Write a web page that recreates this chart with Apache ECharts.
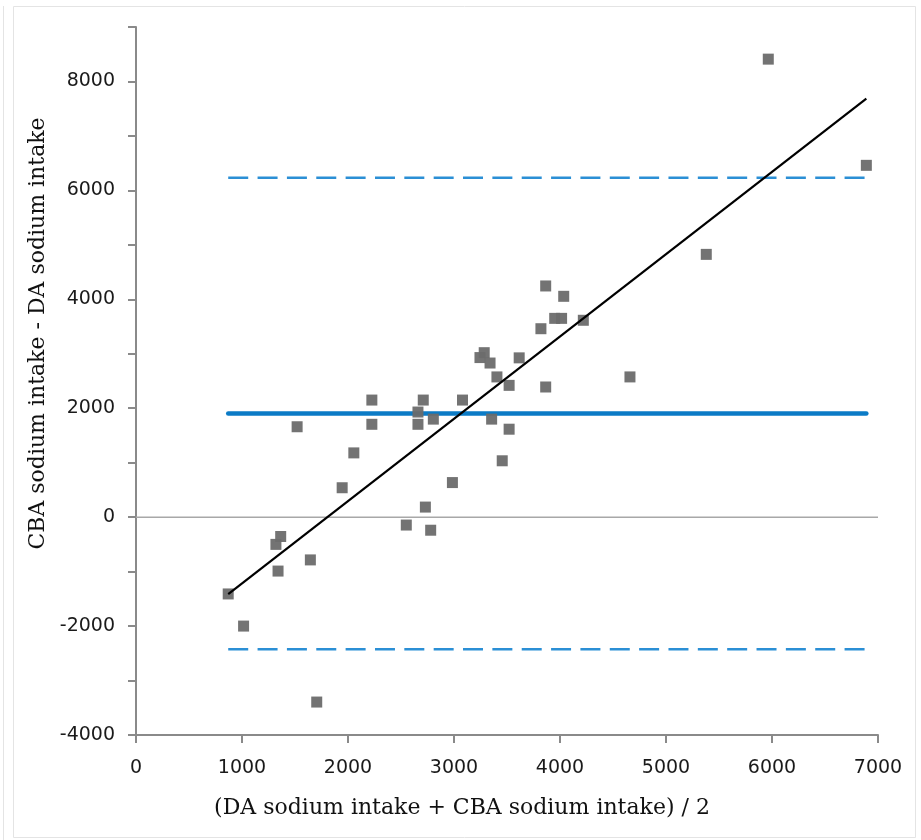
<!DOCTYPE html>
<html>
<head>
<meta charset="utf-8">
<script src="https://cdn.jsdelivr.net/npm/echarts@6/dist/echarts.min.js"></script>
<style>
html,body{margin:0;padding:0;background:#fff;}
#chart{width:921px;height:840px;}
</style>
</head>
<body>
<div id="chart"></div>
<script>
// Mean of the two methods (x) and difference CBA - DA (y)
const meanIntake = [870, 1015, 1705, 1320, 1365, 1340, 1645, 1520, 1945, 2055,
  2225, 2225, 2710, 2660, 2660, 2805, 2550, 2730, 2780, 2985,
  3080, 3355, 3520, 3455, 3405, 3520, 3285, 3245, 3340, 3615,
  3865, 3820, 3865, 4035, 3950, 4015, 4220, 4660, 5380, 5965, 6890];
const diffIntake = [-1410, -2000, -3395, -500, -355, -990, -785, 1660, 540, 1180,
  2150, 1705, 2150, 1930, 1705, 1800, -145, 185, -240, 635,
  2150, 1800, 1615, 1035, 2575, 2420, 3020, 2930, 2830, 2925,
  2390, 3460, 4245, 4055, 3650, 3650, 3615, 2575, 4825, 8410, 6460];

const meanDiff = 1905;
const upperLoA = 6230;
const lowerLoA = -2425;

const trendX = [870, 6890];
const trendY = [-1413, 7687];

const xTicks = [0, 1000, 2000, 3000, 4000, 5000, 6000, 7000];
const yTicks = [-4000, -2000, 0, 2000, 4000, 6000, 8000];

const xTitle = '(DA sodium intake + CBA sodium intake) / 2';
const yTitle = 'CBA sodium intake - DA sodium intake';

const pts = meanIntake.map((x, i) => [x, diffIntake[i]]);
const xMinData = Math.min(...meanIntake);
const xMaxData = Math.max(...meanIntake);
const hLine = v => [[xMinData, v], [xMaxData, v]];

const axisGrey = '#8a8a8a';
const labelFont = {fontFamily: 'DejaVu Sans', fontSize: 19, color: '#1a1a1a'};

const chart = echarts.init(document.getElementById('chart'), null, {renderer: 'canvas'});
chart.setOption({
  backgroundColor: '#ffffff',
  animation: false,
  graphic: [
    {type: 'rect', shape: {x: 13.5, y: 6.5, width: 902, height: 831}, style: {fill: 'none', stroke: '#e4e4e4', lineWidth: 1}, z: -1},
    {type: 'line', shape: {x1: 3.5, y1: 6, x2: 3.5, y2: 840}, style: {stroke: '#e4e4e4', lineWidth: 1}, z: -1}
  ],
  grid: {left: 136, right: 43, top: 27, bottom: 105, containLabel: false},
  xAxis: {
    type: 'value', min: 0, max: 7000, interval: 1000,
    name: xTitle, nameLocation: 'middle', nameGap: 62,
    nameTextStyle: {fontFamily: 'DejaVu Serif', fontSize: 22, color: '#111', padding: [0, 90, 0, 0]},
    axisLine: {show: true, onZero: false, lineStyle: {color: axisGrey, width: 2}},
    axisTick: {show: true, inside: false, length: 8, lineStyle: {color: axisGrey, width: 2}},
    axisLabel: Object.assign({margin: 24, formatter: v => xTicks.includes(v) ? String(v) : ''}, labelFont),
    splitLine: {show: false}
  },
  yAxis: {
    type: 'value', min: -4000, max: 9000, interval: 1000,
    name: yTitle, nameLocation: 'middle', nameGap: 85,
    nameTextStyle: {fontFamily: 'DejaVu Serif', fontSize: 22, color: '#111', padding: [0, 0, 0, 95]},
    axisLine: {show: true, onZero: false, lineStyle: {color: axisGrey, width: 2}},
    axisTick: {show: true, inside: false, length: 8, lineStyle: {color: axisGrey, width: 2}},
    axisLabel: Object.assign({margin: 21, formatter: v => yTicks.includes(v) ? String(v) : ''}, labelFont),
    splitLine: {show: false}
  },
  series: [
    {
      type: 'line', data: [[0, 0], [7000, 0]], symbol: 'none', silent: true,
      lineStyle: {color: '#a8a8a8', width: 1.5}, z: 1
    },
    {
      type: 'line', data: hLine(upperLoA), symbol: 'none', silent: true,
      lineStyle: {color: '#2b8fd5', width: 2.5, type: [20, 9.35]}, z: 2
    },
    {
      type: 'line', data: hLine(lowerLoA), symbol: 'none', silent: true,
      lineStyle: {color: '#2b8fd5', width: 2.5, type: [20, 9.35]}, z: 2
    },
    {
      type: 'line', data: hLine(meanDiff), symbol: 'none', silent: true,
      lineStyle: {color: '#0b7bc6', width: 4.5, cap: 'round'}, z: 2
    },
    {
      type: 'scatter', data: pts, symbol: 'rect', symbolSize: 11,
      itemStyle: {color: '#6b6b6b', opacity: 0.95}, z: 3
    },
    {
      type: 'line', data: trendX.map((x, i) => [x, trendY[i]]), symbol: 'none', silent: true,
      lineStyle: {color: '#000000', width: 2.2}, z: 4
    }
  ]
});
</script>
</body>
</html>
